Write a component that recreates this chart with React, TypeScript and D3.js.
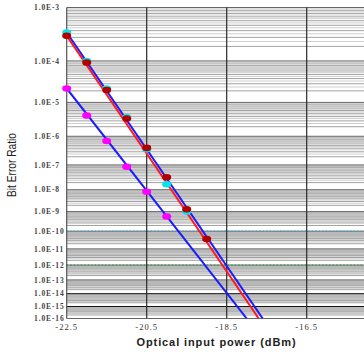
import React from 'react';
import * as d3 from 'd3';

// measured points (power in dBm, BER)
const power = [-22.5, -22, -21.5, -21, -20.5, -20, -19.5, -19];
const berRed = [3.2e-4, 9.2e-5, 2.1e-5, 3.5e-6, 4.1e-7, 3.3e-8, 1.3e-9, 3.7e-11];
const berCyan = [3.7e-4, 1.0e-4, 2.3e-5, 3.8e-6, 3.7e-7, 1.7e-8, 1.0e-9];
const berMagenta = [2.3e-5, 4.3e-6, 7.0e-7, 8.5e-8, 8.2e-9, 5.8e-10];

// power where each fitted line reaches 1E-16
const fitEndRed = -17.7;
const fitEndCyan = -17.6;
const fitEndMagenta = -18.0;

const xTicks = [-22.5, -20.5, -18.5, -16.5];
const decades = d3.range(3, 17); // 1E-3 ... 1E-16
const refLines = [1e-10, 1e-12];

const W = 364;
const H = 352;
const left = 66.7;
const top = 7.5;
const bottom = 318.5;

// BER axis: log(-log(BER))
const tf = (b: number) => Math.log10(-Math.log10(b));

const App: React.FC = () => {
  const x = d3.scaleLinear().domain([-22.5, -16.5]).range([left, left + 240]);
  const yT = d3.scaleLinear().domain([tf(1e-3), tf(1e-16)]).range([top, bottom]);
  const y = (b: number) => yT(tf(b));

  // minor grid: whole and half steps inside every decade
  const minor: { v: number; k: number }[] = [];
  decades.slice(0, -1).forEach((n) => {
    for (let k = 1.5; k <= 9.5; k += 0.5) minor.push({ v: k * Math.pow(10, -(n + 1)), k });
  });

  const series = [
    { ber: berMagenta, end: fitEndMagenta, line: '#1a1aff', mark: '#ff00ff' },
    { ber: berCyan, end: fitEndCyan, line: '#1a1aff', mark: '#00e5ee' },
    { ber: berRed, end: fitEndRed, line: '#ff1a1a', mark: '#b00000' },
  ];

  const lineGen = d3
    .line<[number, number]>()
    .x((d) => x(d[0]))
    .y((d) => y(d[1]));

  const labelFont = 'Liberation Serif, serif';

  return (
    <svg width={W} height={H} style={{ position: 'absolute', left: 0, top: 0, background: '#fff' }}>
      <defs>
        <clipPath id="plot">
          <rect x={left} y={top} width={W - left} height={bottom - top} />
        </clipPath>
      </defs>

      {/* minor grid */}
      {minor
        .filter((m) => m.k !== 1.5)
        .map((m, i) => (
          <line
            key={'m' + i}
            x1={left}
            x2={W}
            y1={y(m.v)}
            y2={y(m.v)}
            stroke={Number.isInteger(m.k) ? '#a2a2a2' : '#cfcfcf'}
            strokeWidth={1}
          />
        ))}

      {/* decade lines */}
      {decades.map((n) => (
        <line
          key={'d' + n}
          x1={left}
          x2={W}
          y1={y(Math.pow(10, -n))}
          y2={y(Math.pow(10, -n))}
          stroke={n === 14 || n === 15 ? '#111' : '#666'}
          strokeWidth={1}
        />
      ))}

      {refLines.map((b, i) => (
        <line
          key={'r' + i}
          x1={left}
          x2={W}
          y1={y(b)}
          y2={y(b)}
          stroke={i === 0 ? '#3fa0d0' : '#2e9a3c'}
          strokeWidth={1.2}
          strokeDasharray="1.5,2"
        />
      ))}

      {/* vertical grid */}
      {xTicks.map((t) => (
        <line key={'v' + t} x1={x(t)} x2={x(t)} y1={top} y2={bottom} stroke={t === -22.5 ? '#555' : '#2a2a2a'} strokeWidth={1.2} />
      ))}

      {/* fitted lines */}
      <g clipPath="url(#plot)">
        {series.map((s, i) => (
          <path
            key={'l' + i}
            d={lineGen([
              [power[0], s.ber[0]],
              [s.end, 1e-16],
            ]) || ''}
            fill="none"
            stroke={s.line}
            strokeWidth={2}
          />
        ))}
      </g>

      {/* markers */}
      {series.map((s, i) =>
        s.ber.map((b, j) => (
          <ellipse key={'p' + i + '-' + j} cx={x(power[j])} cy={y(b)} rx={4.5} ry={3.3} fill={s.mark} />
        ))
      )}

      {/* y tick labels */}
      {decades.map((n) => (
        <text
          key={'yl' + n}
          x={34}
          y={y(Math.pow(10, -n)) + 1}
          dominantBaseline="middle"
          fontFamily={labelFont}
          fontSize={7.5}
          fontWeight="bold"
          letterSpacing={0.9}
          fill="#444"
        >
          {'1.0E-' + n}
        </text>
      ))}

      {/* x tick labels */}
      {xTicks.map((t) => (
        <text
          key={'xl' + t}
          x={x(t)}
          y={330}
          textAnchor="middle"
          fontFamily={labelFont}
          fontSize={8.5}
          letterSpacing={1}
          fill="#333"
        >
          {t.toFixed(1)}
        </text>
      ))}

      <text
        x={216.5}
        y={346}
        textAnchor="middle"
        fontFamily="Liberation Sans, Arial, sans-serif"
        fontWeight="bold"
        fontSize={11}
        letterSpacing={0.9}
        fill="#222"
      >
        Optical input power (dBm)
      </text>

      <text
        transform="translate(16,165) rotate(-90)"
        textAnchor="middle"
        fontFamily="Liberation Sans, Arial, sans-serif"
        fontSize={12.5}
        textLength={64}
        lengthAdjust="spacingAndGlyphs"
        fill="#222"
      >
        Bit Error Ratio
      </text>
    </svg>
  );
};

export default App;
